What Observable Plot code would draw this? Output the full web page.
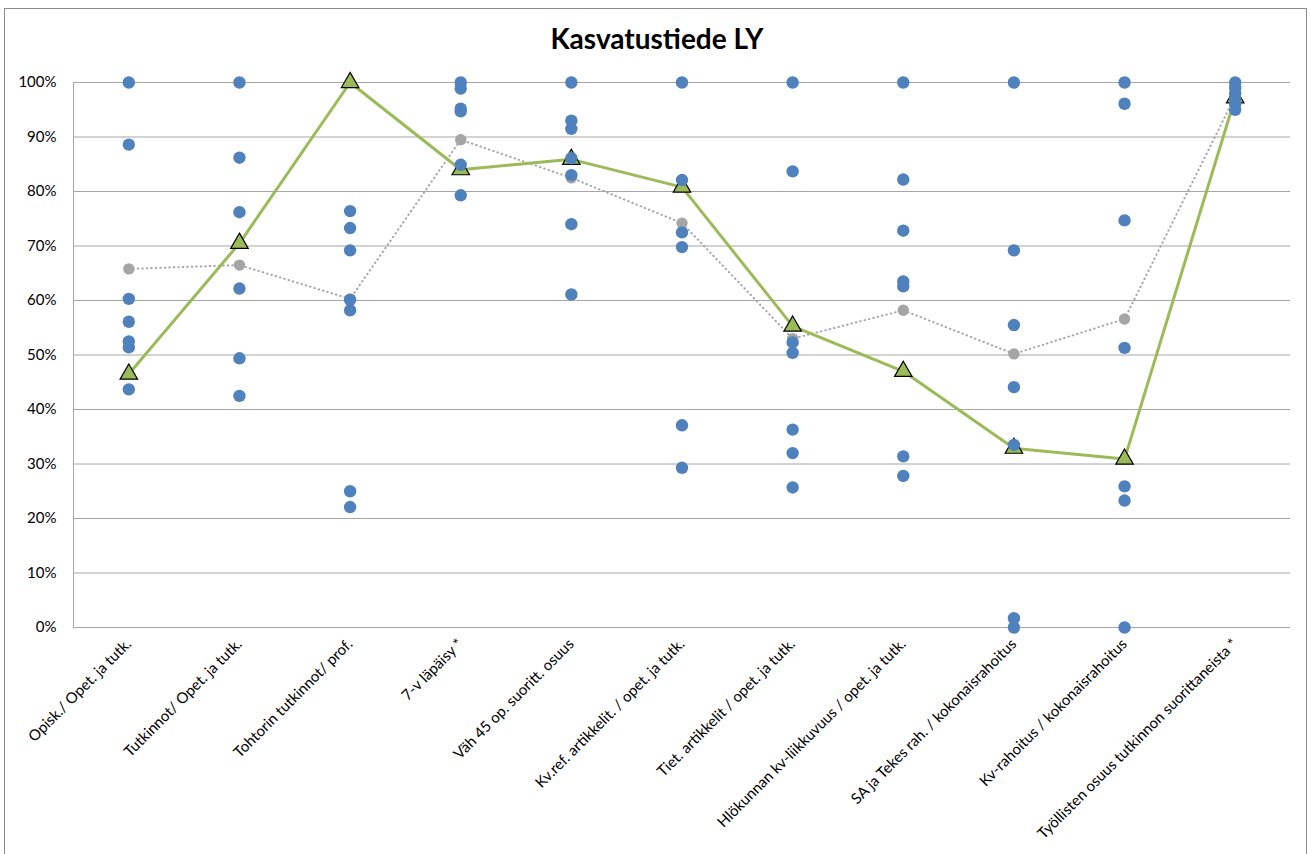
<!DOCTYPE html>
<html>
<head>
<meta charset="utf-8">
<script src="https://cdn.jsdelivr.net/npm/d3@7"></script>
<script src="https://cdn.jsdelivr.net/npm/@observablehq/plot@0.6"></script>
<style>
  html, body { margin: 0; padding: 0; background: #fff; overflow: hidden; }
  #wrap { position: relative; width: 1310px; height: 854px; }
  #border { position: absolute; left: 4px; top: 8px; width: 1303px; height: 870px; border: 1px solid #8c8c8c; box-sizing: border-box; pointer-events: none; }
  #title { position: absolute; left: 0; top: 21px; width: 1314px; text-align: center; font-family: Lato, sans-serif; font-weight: bold; font-size: 28px; color: #000; line-height: 34px; }
  #chart { position: absolute; left: 0; top: 0; }
</style>
</head>
<body>
<div id="wrap">
  <div id="chart"></div>
  <div id="border"></div>
  <div id="title">Kasvatustiede LY</div>
</div>
<script>
const categories = [
  "Opisk./ Opet. ja tutk.",
  "Tutkinnot/ Opet. ja tutk.",
  "Tohtorin tutkinnot/ prof.",
  "7-v läpäisy *",
  "Väh 45 op. suoritt. osuus",
  "Kv.ref. artikkelit. / opet. ja tutk.",
  "Tiet. artikkelit / opet. ja tutk.",
  "Hlökunnan kv-liikkuvuus / opet. ja tutk.",
  "SA ja Tekes rah. / kokonaisrahoitus",
  "Kv-rahoitus / kokonaisrahoitus",
  "Työllisten osuus tutkinnon suorittaneista *"
];

// Other units (blue dots), percent, per category
const otherUnits = [
  [100, 88.6, 60.3, 56.1, 52.5, 51.4, 43.7],
  [100, 86.2, 76.2, 62.2, 49.4, 42.5],
  [76.4, 73.3, 69.2, 60.1, 58.2, 25.0, 22.1],
  [100, 98.9, 95.2, 94.7, 84.9, 79.3],
  [100, 93.0, 91.5, 86.1, 83.0, 74.0, 61.1],
  [100, 82.1, 72.5, 69.8, 37.1, 29.3],
  [100, 83.7, 52.3, 50.4, 36.3, 32.0, 25.7],
  [100, 82.2, 72.8, 63.5, 62.6, 31.4, 27.8],
  [100, 69.2, 55.5, 44.1, 33.5, 1.7, 0],
  [100, 96.1, 74.7, 51.3, 25.9, 23.3, 0],
  [100, 99, 98, 97, 96, 95]
];

// Grey dotted series, percent
const greyValues = [65.8, 66.5, 60.3, 89.5, 82.5, 74.2, 53.0, 58.2, 50.2, 56.6, 97.5];

// LY (green triangles), percent
const lyValues = [46.5, 70.5, 100, 84.0, 85.9, 80.8, 55.3, 47.0, 32.9, 30.9, 97.2];

const yTicks = [0, 0.1, 0.2, 0.3, 0.4, 0.5, 0.6, 0.7, 0.8, 0.9, 1.0];

const blueData = otherUnits.flatMap((vals, i) => vals.map(v => ({cat: categories[i], v: v / 100})));
const greyData = greyValues.map((v, i) => ({cat: categories[i], v: v / 100}));
const lyData = lyValues.map((v, i) => ({cat: categories[i], v: v / 100}));

const chart = Plot.plot({
  width: 1310,
  height: 854,
  marginLeft: 73,
  marginRight: 20,
  marginTop: 82,
  marginBottom: 227,
  style: {fontFamily: "Lato, sans-serif", fontSize: "13px", color: "#000", background: "transparent"},
  x: {type: "point", domain: categories, padding: 0.5, round: false},
  y: {domain: [0, 1]},
  marks: [
    Plot.gridY(yTicks, {stroke: "#a6a6a6", strokeOpacity: 1, strokeWidth: 1}),
    Plot.frame({anchor: "left", stroke: "#a6a6a6"}),
    Plot.axisY(yTicks, {tickSize: 0, tickPadding: 17, tickFormat: d3.format(".0%"), fontSize: 15, label: null}),
    Plot.axisX({tickSize: 0, tickRotate: -45, tickPadding: 14, fontSize: 15, label: null}),
    Plot.line(greyData, {x: "cat", y: "v", stroke: "#a5a5a5", strokeWidth: 2, strokeDasharray: "0.5,4", strokeLinecap: "round"}),
    Plot.dot(greyData, {x: "cat", y: "v", r: 5.7, fill: "#a5a5a5"}),
    Plot.line(lyData, {x: "cat", y: "v", stroke: "#9bbb59", strokeWidth: 3}),
    Plot.dot(lyData, {x: "cat", y: "v", symbol: "triangle", r: 6.5, fill: "#9bbb59", stroke: "#000", strokeWidth: 1.2}),
    Plot.dot(blueData, {x: "cat", y: "v", r: 6.2, fill: "#4f81bd"})
  ]
});
document.getElementById("chart").appendChild(chart);
</script>
</body>
</html>
